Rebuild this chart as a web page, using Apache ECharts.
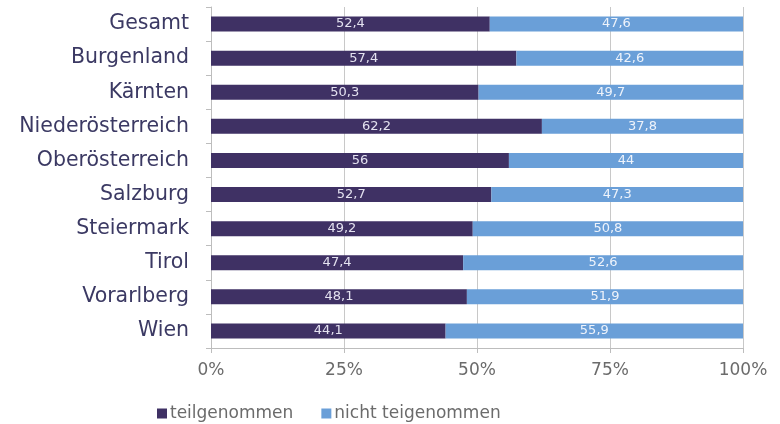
<!DOCTYPE html>
<html><head><meta charset="utf-8">
<script src="https://cdn.jsdelivr.net/npm/echarts@6/dist/echarts.min.js"></script>
<style>html,body{margin:0;padding:0;background:#fff}#c{width:780px;height:424px}</style>
</head><body><div id="c"></div>
<script>
const categories = ["Gesamt","Burgenland","Kärnten","Niederösterreich","Oberösterreich","Salzburg","Steiermark","Tirol","Vorarlberg","Wien"];
const teilgenommen = [52.4,57.4,50.3,62.2,56,52.7,49.2,47.4,48.1,44.1];
const nichtTeilgenommen = [47.6,42.6,49.7,37.8,44,47.3,50.8,52.6,51.9,55.9];
const xTicks = [0,25,50,75,100];

const fmt = p => String(p.value).replace('.', ',');
const FONT = 'DejaVu Sans';
const chart = echarts.init(document.getElementById('c'));
chart.setOption({
  animation: false,
  grid: {left: 211, right: 37, top: 7, bottom: 76, containLabel: false},
  xAxis: {
    type: 'value', min: 0, max: 100, interval: 25,
    axisLine: {show: true, lineStyle: {color: '#bdbdbd'}},
    axisTick: {show: true, length: 5, lineStyle: {color: '#bdbdbd'}},
    splitLine: {show: true, lineStyle: {color: '#c8c8c8'}},
    axisLabel: {formatter: v => v + '%', color: '#6b6b6b', fontSize: 17, fontFamily: FONT, margin: 14}
  },
  yAxis: {
    type: 'category', inverse: true, data: categories,
    axisLine: {show: true, lineStyle: {color: '#bdbdbd'}},
    axisTick: {show: true, length: 5, lineStyle: {color: '#bdbdbd'}},
    axisLabel: {color: '#3b3963', fontSize: 20.5, fontFamily: FONT, margin: 22}
  },
  legend: {
    top: 400, left: 152, itemWidth: 10, itemHeight: 10, itemGap: 28,
    icon: 'rect',
    textStyle: {color: '#6b6b6b', fontSize: 17, fontFamily: FONT, padding: [0,0,0,-2]},
    data: ['teilgenommen', 'nicht teigenommen']
  },
  series: [
    {name: 'teilgenommen', type: 'bar', stack: 's', data: teilgenommen, barWidth: 15,
     itemStyle: {color: '#3f3164'},
     label: {show: true, position: 'inside', color: '#e4e2f0', fontSize: 13, fontFamily: FONT, formatter: fmt}},
    {name: 'nicht teigenommen', type: 'bar', stack: 's', data: nichtTeilgenommen, barWidth: 15,
     itemStyle: {color: '#6a9fd8'},
     label: {show: true, position: 'inside', color: '#eef3fb', fontSize: 13, fontFamily: FONT, formatter: fmt}}
  ]
});
</script></body></html>
